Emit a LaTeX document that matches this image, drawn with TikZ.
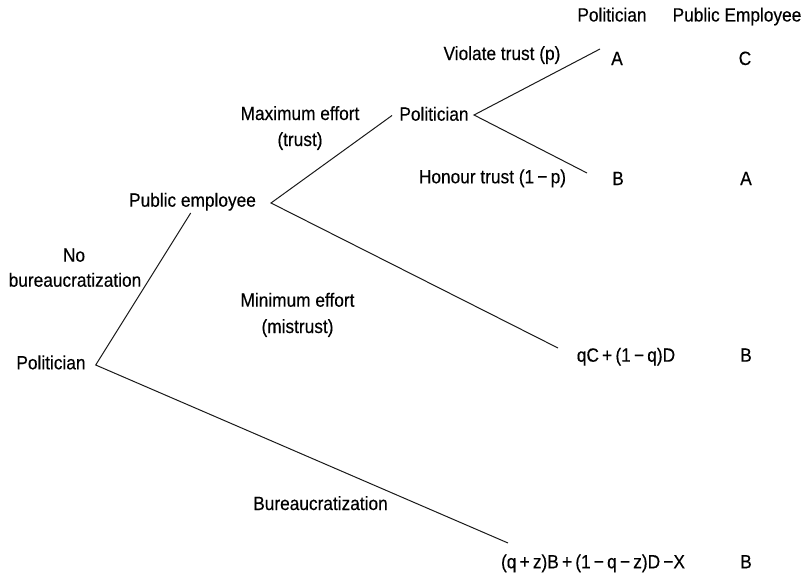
\documentclass[tikz,border=0pt]{standalone}
\usepackage{fontspec}
\setmainfont{Liberation Sans}[FakeStretch=0.9,FakeBold=0.3]
\begin{document}
\begin{tikzpicture}[x=1pt,y=-1pt,
  every node/.style={inner sep=0pt, anchor=base, font=\fontsize{19.2}{26}\selectfont},
  branch/.style={line width=1pt, black!90}]
\useasboundingbox (0,0) rectangle (805,578);

% column headers
\node (hPol) at (612,21.5) {Politician};
\node (hPE)  at (737,21.5) {Public Employee};

% decision nodes
\node (root) at (51,369.3)   {Politician};
\node (pe)   at (192.5,206.7) {Public employee};
\node (pol)  at (434,120.7)  {Politician};

% branch labels
\node (noA)  at (74,261.7)   {No};
\node (noB)  at (75,286.7)   {bureaucratization};
\node (bur)  at (320.5,510)  {Bureaucratization};
\node (maxA) at (300,120)    {Maximum effort};
\node (maxB) at (300,146)    {(trust)};
\node (minA) at (297.5,306.7) {Minimum effort};
\node (minB) at (297.5,333)  {(mistrust)};
\node (vio)  at (502,60)     {Violate trust (p)};
\node (hon)  at (492.5,183.3) {Honour trust (1\,−\,p)};

% payoffs: politician, public employee
\node (p1) at (617,65)    {A};
\node (e1) at (745,65)    {C};
\node (p2) at (618,185)   {B};
\node (e2) at (746,185)   {A};
\node (p3) at (626,361.7) {qC\,+\,(1\,−\,q)D};
\node (e3) at (746,361.7) {B};
\node (p4) at (593,568.3) {(q\,+\,z)B\,+\,(1\,−\,q\,−\,z)D\,−X};
\node (e4) at (746,568.3) {B};

% branch end points
\coordinate (rootV) at (95.7,365);
\coordinate (peIn)  at (190.7,213);
\coordinate (p4In)  at (508,543);
\coordinate (peV)   at (271,203);
\coordinate (polIn) at (392,115.5);
\coordinate (p3In)  at (558,348);
\coordinate (polV)  at (474,115);
\coordinate (p1In)  at (600,49);
\coordinate (p2In)  at (587,173);

\draw[branch] (peIn) -- (rootV) -- (p4In);
\draw[branch] (polIn) -- (peV) -- (p3In);
\draw[branch] (p1In) -- (polV) -- (p2In);
\end{tikzpicture}
\end{document}
